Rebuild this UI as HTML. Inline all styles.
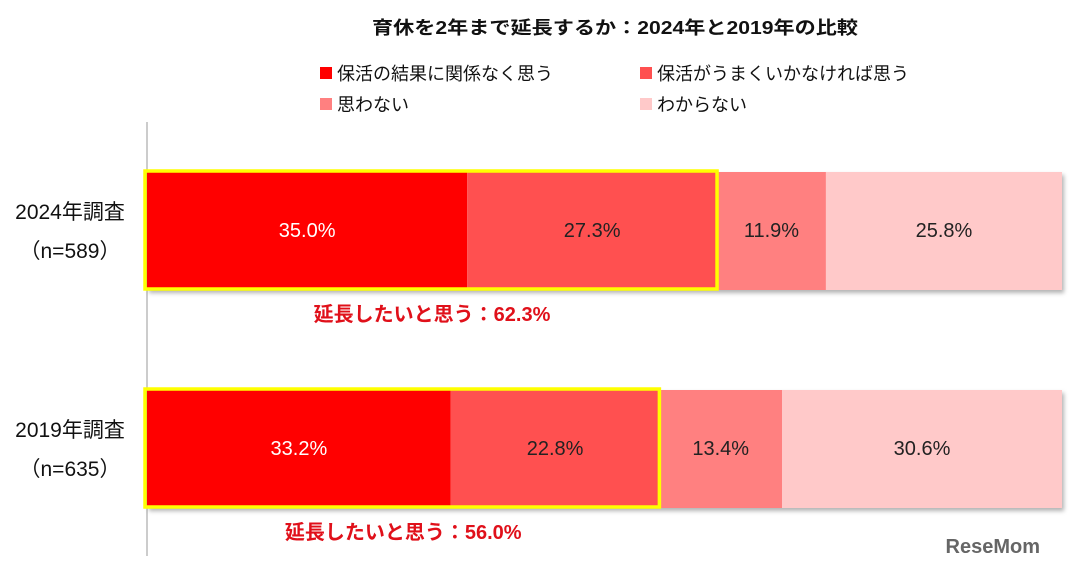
<!DOCTYPE html>
<html><head><meta charset="utf-8">
<style>
body{margin:0;background:#fff;}
svg text{font-family:"Liberation Sans","Noto Sans CJK JP",sans-serif;}
</style></head>
<body>
<svg id="chart" width="1069" height="568" viewBox="0 0 1069 568">
<defs><filter id="sh" x="-5%" y="-5%" width="110%" height="120%"><feDropShadow dx="2" dy="3" stdDeviation="2" flood-color="#000" flood-opacity="0.3"/></filter></defs>
<text x="372" y="34" font-size="18" font-weight="bold" textLength="486" lengthAdjust="spacingAndGlyphs" fill="#111">育休を2年まで延長するか：2024年と2019年の比較</text>
<g id="legend"></g>
<line x1="147" y1="122" x2="147" y2="556" stroke="#999" stroke-width="1"/>
<g id="bars"></g>
<text x="1040" y="553" font-size="20" font-weight="bold" fill="#666" text-anchor="end">ReseMom</text>
</svg>
<script>
const categories = ["2024年調査", "2019年調査"];
const sampleLabels = ["（n=589）", "（n=635）"];
const seriesNames = ["保活の結果に関係なく思う", "保活がうまくいかなければ思う", "思わない", "わからない"];
const s1 = [35.0, 33.2];
const s2 = [27.3, 22.8];
const s3 = [11.9, 13.4];
const s4 = [25.8, 30.6];
const totalLabels = ["延長したいと思う：62.3%", "延長したいと思う：56.0%"];
const colors = ["#FF0000", "#FF5050", "#FF8080", "#FFC9C9"];
const textColors = ["#fff", "#222", "#222", "#222"];
const NS = "http://www.w3.org/2000/svg";
const x0 = 147, plotW = 915;
const xs = v => v / 100 * plotW;
const rowTop = [172, 390], barH = 118;
function mk(tag, attrs, parent, txt){const e=document.createElementNS(NS,tag);for(const k in attrs)e.setAttribute(k,attrs[k]);if(txt!==undefined)e.textContent=txt;parent.appendChild(e);return e;}
const leg = document.getElementById('legend');
const legPos = [[320,78],[640,78],[320,109],[640,109]];
seriesNames.forEach((n,i)=>{
  const r = mk('rect',{x:legPos[i][0],y:legPos[i][1]-11,width:12,height:12,fill:colors[i]},leg);
  
  
  const t = mk('text',{x:legPos[i][0]+17,y:legPos[i][1]+2,'font-size':18,fill:'#111'},leg,n);
  
  
});
const g = document.getElementById('bars');
const series = [s1,s2,s3,s4];
categories.forEach((c,ri)=>{
  const y = rowTop[ri];
  const cl = mk('text',{x:70,y:y+47,'font-size':21,'text-anchor':'middle',fill:'#111'},g,c);
  
  
  const nl = mk('text',{x:70,y:y+86,'font-size':21,'text-anchor':'middle',fill:'#111'},g,sampleLabels[ri]);
  
  
  let total = series.reduce((a,s)=>a+s[ri],0);
  const bg = mk('rect',{x:x0,y:y,width:xs(total),height:barH,fill:'#fff',filter:'url(#sh)'},g);
  
  
  let acc = 0;
  series.forEach((s,si)=>{
    const r = mk('rect',{x:x0+xs(acc),y:y,width:xs(s[ri]),height:barH,fill:colors[si]},g);
    
    
    const t = mk('text',{x:x0+xs(acc+s[ri]/2),y:y+barH/2+6,'font-size':20,'text-anchor':'middle',fill:textColors[si]},g,s[ri].toFixed(1)+'%');
    
    
    acc += s[ri];
  });
  const hw = xs(s1[ri]+s2[ri]);
  const hb = mk('rect',{x:x0-2,y:y-1,width:hw+2,height:barH,fill:'none',stroke:'#FFFF00','stroke-width':3.5},g);
  
  
  const tl = mk('text',{x:x0+hw/2,y:y+barH+31,'font-size':20,'font-weight':'bold','text-anchor':'middle',fill:'#E0101A'},g,totalLabels[ri]);
  
  
});
</script>
</body></html>
